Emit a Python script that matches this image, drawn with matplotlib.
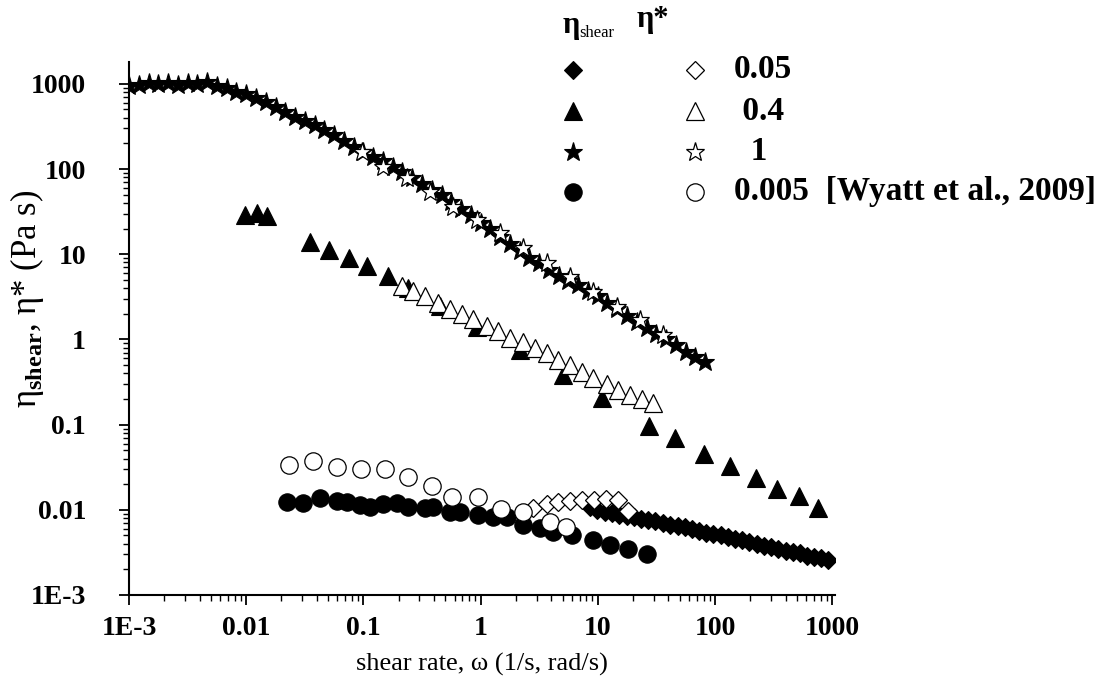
import matplotlib
matplotlib.use('Agg')
import matplotlib.pyplot as plt
from matplotlib.lines import Line2D
from matplotlib.ticker import FixedLocator, FixedFormatter, LogLocator, NullFormatter

# eta_shear, concentration 1 (filled stars)
star_f_x = [0.00100, 0.00121, 0.00147, 0.00178, 0.00215, 0.00261, 0.00316, 0.00383, 0.00464, 0.00562, 0.00681, 0.00825,
            0.0100, 0.0121, 0.0147, 0.0178, 0.0215, 0.0261, 0.0316, 0.0383, 0.0464, 0.0562, 0.0681, 0.0825,
            0.100, 0.121, 0.147, 0.178, 0.215, 0.261, 0.316, 0.383, 0.464, 0.562, 0.681, 0.825,
            1.00, 1.21, 1.47, 1.78, 2.15, 2.61, 3.16, 3.83, 4.64, 5.62, 6.81, 8.25,
            10.0, 12.1, 14.7, 17.8, 21.5, 26.1, 31.6, 38.3, 46.4, 56.2, 68.1, 82.5]
star_f_y = [950, 980, 1020, 990, 1030, 960, 1010, 1000, 1040, 930, 890, 800,
            760, 690, 610, 540, 470, 410, 370, 330, 290, 250, 215, 182,
            160, 140, 124, 107, 93, 78, 67, 57, 49, 41, 34, 28.5,
            23.5, 19.5, 16.0, 13.2, 11.0, 9.1, 7.8, 6.6, 5.6, 4.9, 4.3, 3.7,
            3.2, 2.7, 2.25, 1.86, 1.58, 1.36, 1.17, 1.0, 0.85, 0.72, 0.63, 0.54]

# eta*, concentration 1 (open stars)
star_o_x = [0.0973, 0.147, 0.235, 0.370, 0.582, 0.931, 1.47, 2.30, 3.69, 5.80, 9.10, 14.6, 22.9, 36.0]
star_o_y = [159, 106, 79, 54, 36, 25.3, 17.8, 11.9, 7.9, 5.4, 3.6, 2.4, 1.70, 1.13]

# eta_shear, concentration 0.4 (filled triangles)
tri_f_x = [0.0098, 0.0124, 0.0151, 0.035, 0.0508, 0.0753, 0.107, 0.162, 0.24, 0.45, 0.93, 2.17,
           5.05, 10.9, 27.4, 46, 80.5, 134, 224, 338, 521, 757]
tri_f_y = [29, 30.5, 28.3, 14.0, 11.3, 9.1, 7.3, 5.6, 4.0, 2.48, 1.38, 0.745,
           0.38, 0.206, 0.097, 0.0687, 0.0448, 0.0325, 0.0236, 0.0175, 0.0146, 0.0105]

# eta*, concentration 0.4 (open triangles)
tri_o_x = [0.213, 0.265, 0.336, 0.434, 0.548, 0.694, 0.861, 1.13, 1.41, 1.78, 2.3, 2.91,
           3.69, 4.57, 5.79, 7.33, 9.1, 12, 14.9, 18.8, 23.8, 29.6]
tri_o_y = [4.25, 3.72, 3.25, 2.69, 2.29, 2.0, 1.75, 1.45, 1.27, 1.05, 0.92, 0.785,
           0.687, 0.57, 0.5, 0.413, 0.352, 0.3, 0.255, 0.223, 0.2, 0.18]

# eta_shear, concentration 0.05 (filled diamonds)
dia_f_x = [8.5, 9.8, 11.5, 13.2, 15.2, 17.6, 20.4, 23.5, 27, 31, 36, 41.5, 48, 55, 63.5, 73, 84,
           97, 112, 129, 148, 171, 197, 227, 261, 301, 347, 400, 460, 530, 610, 700, 810, 930]
dia_f_y = [0.0108, 0.0100, 0.0094, 0.0091, 0.0088, 0.0085, 0.0083, 0.0079, 0.0076, 0.0073, 0.0070,
           0.0067, 0.0064, 0.0062, 0.0059, 0.0057, 0.0054, 0.0052, 0.0050, 0.0048, 0.0046, 0.0044,
           0.0042, 0.0040, 0.0038, 0.0037, 0.0035, 0.0033, 0.0032, 0.0031, 0.0029, 0.0028, 0.0027, 0.0026]

# eta*, concentration 0.05 (open diamonds)
dia_o_x = [2.80, 3.69, 4.57, 5.80, 7.33, 9.29, 11.8, 14.9, 18.1]
dia_o_y = [0.0105, 0.0117, 0.0124, 0.0128, 0.0131, 0.0131, 0.0135, 0.0131, 0.0097]

# eta_shear, concentration 0.005 (filled circles)
cir_f_x = [0.0223, 0.0305, 0.0427, 0.0596, 0.0725, 0.0936, 0.114, 0.147, 0.194, 0.240, 0.336, 0.393,
           0.548, 0.667, 0.951, 1.28, 1.68, 2.30, 3.21, 4.15, 6.03, 9.10, 12.7, 18.1, 26.3]
cir_f_y = [0.0124, 0.0121, 0.0138, 0.0128, 0.0124, 0.0115, 0.0108, 0.0118, 0.0121, 0.0108, 0.0105, 0.0108,
           0.0095, 0.0095, 0.0087, 0.0083, 0.0083, 0.0067, 0.0061, 0.0055, 0.0050, 0.0044, 0.0039, 0.0035, 0.0030]

# eta*, concentration 0.005 (open circles, Wyatt et al. 2009)
cir_o_x = [0.0232, 0.0372, 0.0596, 0.0955, 0.153, 0.240, 0.385, 0.570, 0.951, 1.49, 2.30, 3.91, 5.36]
cir_o_y = [0.0337, 0.0376, 0.032, 0.0303, 0.0303, 0.0244, 0.0191, 0.0142, 0.0142, 0.0103, 0.0095, 0.0072, 0.0063]

x_ticks = [1e-3, 1e-2, 1e-1, 1, 10, 100, 1000]
x_tick_labels = ['1E-3', '0.01', '0.1', '1', '10', '100', '1000']
y_ticks = [1e-3, 1e-2, 1e-1, 1, 10, 100, 1000]
y_tick_labels = ['1E-3', '0.01', '0.1', '1', '10', '100', '1000']

legend_labels = ['0.05', ' 0.4', '  1', '0.005  [Wyatt et al., 2009]']
legend_markers = ['D', '^', '*', 'o']
legend_sizes = [9.5, 13, 14, 12.5]

plt.rcParams['font.family'] = ['Liberation Serif', 'DejaVu Serif']
plt.rcParams['font.weight'] = 'bold'
plt.rcParams['mathtext.fontset'] = 'custom'
plt.rcParams['mathtext.rm'] = 'Liberation Serif'
plt.rcParams['mathtext.bf'] = 'Liberation Serif:bold'

W, H = 1113, 693
fig = plt.figure(figsize=(W / 100, H / 100), dpi=100)
ax = fig.add_axes([129 / W, 1 - 595 / H, (835 - 129) / W, (595 - 62) / H])

filled = dict(color='black', linestyle='none', markeredgecolor='black', markeredgewidth=0.8)
hollow = dict(color='black', linestyle='none', markerfacecolor='white', markeredgecolor='black', markeredgewidth=0.9)

ax.plot(star_f_x, star_f_y, marker='*', markersize=14, **filled)
ax.plot(star_o_x, star_o_y, marker='*', markersize=14, **hollow)
ax.plot(tri_f_x, tri_f_y, marker='^', markersize=13, **filled)
ax.plot(tri_o_x, tri_o_y, marker='^', markersize=13, **hollow)
ax.plot(dia_f_x, dia_f_y, marker='D', markersize=9.5, **filled)
ax.plot(dia_o_x, dia_o_y, marker='D', markersize=9.5, **hollow)
ax.plot(cir_f_x, cir_f_y, marker='o', markersize=12.5, **filled)
ax.plot(cir_o_x, cir_o_y, marker='o', markersize=12.5, **hollow)

ax.set_xscale('log')
ax.set_yscale('log')
ax.set_xlim(1e-3, 1057)
ax.set_ylim(1e-3, 1803)

for side in ['top', 'right']:
    ax.spines[side].set_visible(False)
for side in ['left', 'bottom']:
    ax.spines[side].set_linewidth(1.5)

ax.xaxis.set_major_locator(FixedLocator(x_ticks))
ax.xaxis.set_major_formatter(FixedFormatter(x_tick_labels))
ax.yaxis.set_major_locator(FixedLocator(y_ticks))
ax.yaxis.set_major_formatter(FixedFormatter(y_tick_labels))
for axis in [ax.xaxis, ax.yaxis]:
    axis.set_minor_locator(LogLocator(base=10, subs=range(2, 10), numticks=20))
    axis.set_minor_formatter(NullFormatter())
ax.tick_params(which='major', direction='out', length=7, width=1.3, labelsize=20)
ax.tick_params(axis='x', which='major', pad=8)
ax.tick_params(axis='y', which='major', pad=24)
ax.tick_params(which='minor', direction='out', length=4, width=1.0)

ax.set_xlabel('shear rate, ω (1/s, rad/s)', fontsize=19)
ax.xaxis.set_label_coords(0.5, -0.108)
ax.set_ylabel(r'η$_{\mathrm{shear}}$, η* (Pa s)', fontsize=25)
ax.yaxis.set_label_coords(-0.118, 0.555)

# legend drawn by hand: header row, then filled / open marker columns
fig.text(563 / W, 1 - 26 / H, 'η', fontsize=22, va='center', ha='left')
fig.text(579 / W, 1 - 33 / H, 'shear', fontsize=12, va='center', ha='left', fontweight='normal')
fig.text(637 / W, 1 - 20 / H, 'η*', fontsize=22, va='center', ha='left')
rows_y = [70, 111, 152, 192]
for lab, mk, ms, ry in zip(legend_labels, legend_markers, legend_sizes, rows_y):
    fig.add_artist(Line2D([573 / W], [1 - ry / H], marker=mk, markersize=ms, transform=fig.transFigure, **filled))
    fig.add_artist(Line2D([695 / W], [1 - ry / H], marker=mk, markersize=ms, transform=fig.transFigure, **hollow))
    fig.text(734 / W, 1 - ry / H, lab, fontsize=24, va='center', ha='left')

fig.savefig('out.png', dpi=100)
